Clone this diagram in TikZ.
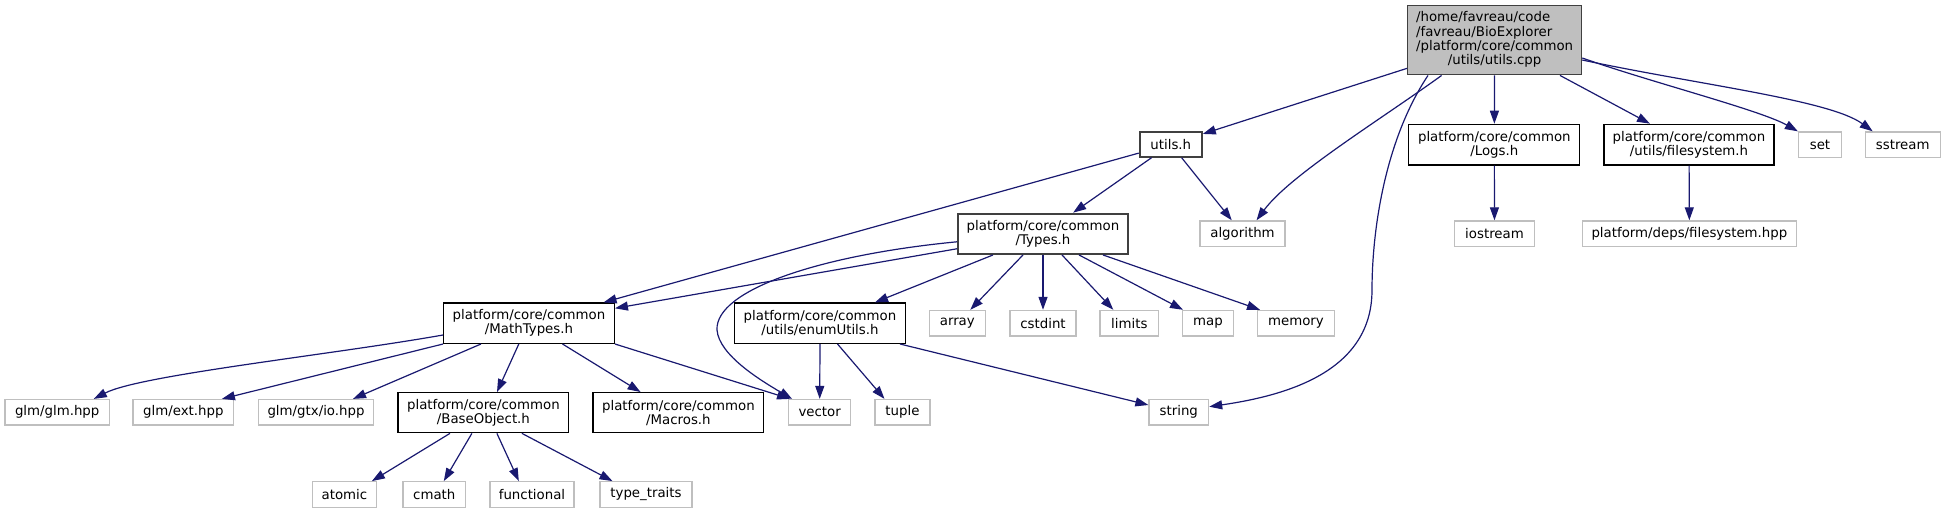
\documentclass[tikz,border=0pt]{standalone}
\usepackage{fontspec}
\setmainfont{DejaVu Sans}
\usetikzlibrary{arrows.meta}
\definecolor{edgeblue}{HTML}{191970}
\definecolor{sysgray}{HTML}{BFBFBF}
\definecolor{darkgray}{HTML}{404040}
\begin{document}
\begin{tikzpicture}[x=1pt,y=-1pt,
  every node/.style={font=\fontsize{13.33}{14.2}\selectfont, inner sep=0pt, align=center},
  docbox/.style={draw=black, line width=1.3pt, fill=white},
  midbox/.style={draw=darkgray, line width=2pt, fill=white},
  sysbox/.style={draw=sysgray, line width=1.3pt, fill=white, minimum height=25.5pt},
  edge/.style={draw=edgeblue, line width=1.2pt, -{Triangle[length=13pt,width=9pt]}},
]
\useasboundingbox (0,0) rectangle (1945,513);

% nodes
\node[fill=sysgray, draw=darkgray, line width=1.3pt, minimum width=174pt, minimum height=69pt] (main) at (1494.6,40.3)
  {\begin{tabular}{@{}l@{}}/home/favreau/code\\/favreau/BioExplorer\\/platform/core/common\\\multicolumn{1}{@{}c@{}}{/utils/utils.cpp}\end{tabular}};
\node[midbox, minimum width=62pt, minimum height=25pt] (utilsh) at (1170.8,144.2) {utils.h};
\node[docbox, minimum width=171pt, minimum height=40.7pt] (logs) at (1494.3,144.7) {platform/core/common\\/Logs.h};
\node[docbox, minimum width=170pt, minimum height=40.7pt] (fsh) at (1689,144.7) {platform/core/common\\/utils/filesystem.h};
\node[sysbox, minimum width=43pt] (set) at (1820,144.7) {set};
\node[sysbox, minimum width=75pt] (sstream) at (1902.7,144.7) {sstream};
\node[midbox, minimum width=170pt, minimum height=40.3pt] (types) at (1043,233.8) {platform/core/common\\/Types.h};
\node[sysbox, minimum width=85pt] (algorithm) at (1242.5,233.7) {algorithm};
\node[sysbox, minimum width=80pt] (iostream) at (1494.5,233.7) {iostream};
\node[sysbox, minimum width=214pt] (fshpp) at (1689.4,233.7) {platform/deps/filesystem.hpp};
\node[docbox, minimum width=170.6pt, minimum height=40.3pt] (mathtypes) at (529,323.2) {platform/core/common\\/MathTypes.h};
\node[docbox, minimum width=171pt, minimum height=40.3pt] (enumutils) at (820,323.2) {platform/core/common\\/utils/enumUtils.h};
\node[sysbox, minimum width=56pt] (array) at (957.3,323.2) {array};
\node[sysbox, minimum width=66pt] (cstdint) at (1043,323.2) {cstdint};
\node[sysbox, minimum width=58.6pt] (limits) at (1129.3,323.2) {limits};
\node[sysbox, minimum width=50.6pt] (map) at (1208,323.2) {map};
\node[sysbox, minimum width=77pt] (memory) at (1296,323.2) {memory};
\node[sysbox, minimum width=104.4pt] (glm) at (57.2,412.3) {glm/glm.hpp};
\node[sysbox, minimum width=100.6pt] (ext) at (183.4,412.3) {glm/ext.hpp};
\node[sysbox, minimum width=115.6pt] (gtx) at (316,412.3) {glm/gtx/io.hpp};
\node[docbox, minimum width=170.6pt, minimum height=40pt] (baseobject) at (483.4,412.7) {platform/core/common\\/BaseObject.h};
\node[docbox, minimum width=170.6pt, minimum height=40pt] (macros) at (678.4,412.7) {platform/core/common\\/Macros.h};
\node[sysbox, minimum width=62pt] (vector) at (819.7,412.3) {vector};
\node[sysbox, minimum width=55pt] (tuple) at (902.5,412.3) {tuple};
\node[sysbox, minimum width=59.5pt] (string) at (1178.8,412.3) {string};
\node[sysbox, minimum width=63.8pt] (atomic) at (344.4,494.5) {atomic};
\node[sysbox, minimum width=62.6pt] (cmath) at (434.3,494.5) {cmath};
\node[sysbox, minimum width=84pt] (functional) at (532,494.5) {functional};
\node[sysbox, minimum width=92pt] (typetraits) at (646,494.5) {type\_traits};

% edges from main
\draw[edge] (main) -- (utilsh);
\draw[edge] ([xshift=-53pt]main.south) .. controls (1380,120) and (1290,175) .. ([xshift=14pt]algorithm.north);
\draw[edge] ([xshift=-66.6pt]main.south) .. controls (1385,140) and (1372,230) .. (1372,290)
  .. controls (1372,370) and (1290,395) .. ([yshift=5.6pt]string.east);
\draw[edge] (main) -- (logs);
\draw[edge] (main) -- (fsh);
\draw[edge] ([yshift=-17.7pt]main.east) .. controls (1650,82) and (1760,110) .. (set.north west);
\draw[edge] ([yshift=-19.7pt]main.east) .. controls (1700,85) and (1830,100) .. ([xshift=-30pt]sstream.north);

% utils.h
\draw[edge] (utilsh) -- (mathtypes);
\draw[edge] (utilsh) -- (types);
\draw[edge] (utilsh) -- (algorithm);

% Types.h
\draw[edge] (types) -- (mathtypes);
\draw[edge] ([yshift=-8pt]types.west) .. controls (820,255) and (715,290) .. (717,330)
  .. controls (719,355) and (760,380) .. ([xshift=4pt]vector.north west);
\draw[edge] ([xshift=-50pt]types.south) -- ([xshift=55pt]enumutils.north);
\draw[edge] ([xshift=-20pt]types.south) -- ([xshift=13pt]array.north);
\draw[edge] (types.south) -- (cstdint.north);
\draw[edge] ([xshift=19pt]types.south) -- ([xshift=-16pt]limits.north);
\draw[edge] ([xshift=36pt]types.south) -- ([xshift=-25pt]map.north);
\draw[edge] ([xshift=60pt]types.south) -- ([xshift=-36pt]memory.north);

% MathTypes.h
\draw[edge] ([yshift=-11.8pt]mathtypes.west) .. controls (330,355) and (140,375) .. ([xshift=36.6pt]glm.north);
\draw[edge] (mathtypes.south west) -- ([xshift=38.5pt]ext.north);
\draw[edge] ([xshift=-48pt]mathtypes.south) -- ([xshift=37pt]gtx.north);
\draw[edge] ([xshift=-10.2pt]mathtypes.south) -- ([xshift=13.6pt]baseobject.north);
\draw[edge] ([xshift=33.5pt]mathtypes.south) -- ([xshift=-37.8pt]macros.north);
\draw[edge] (mathtypes.south east) -- ([xshift=2pt]vector.north west);

% enumUtils.h
\draw[edge] (enumutils.south) -- (vector.north);
\draw[edge] ([xshift=17.5pt]enumutils.south) -- ([xshift=-18pt]tuple.north);
\draw[edge] ([xshift=80pt]enumutils.south) -- ([yshift=7.3pt]string.west);

% BaseObject.h
\draw[edge] ([xshift=-33.4pt]baseobject.south) -- ([xshift=27.5pt]atomic.north);
\draw[edge] ([xshift=-11.5pt]baseobject.south) -- ([xshift=9.5pt]cmath.north);
\draw[edge] ([xshift=13.5pt]baseobject.south) -- ([xshift=-13.2pt]functional.north);
\draw[edge] ([xshift=38.5pt]baseobject.south) -- ([xshift=-33.5pt]typetraits.north);

% others
\draw[edge] (logs) -- (iostream);
\draw[edge] (fsh) -- (fshpp);
\end{tikzpicture}
\end{document}
